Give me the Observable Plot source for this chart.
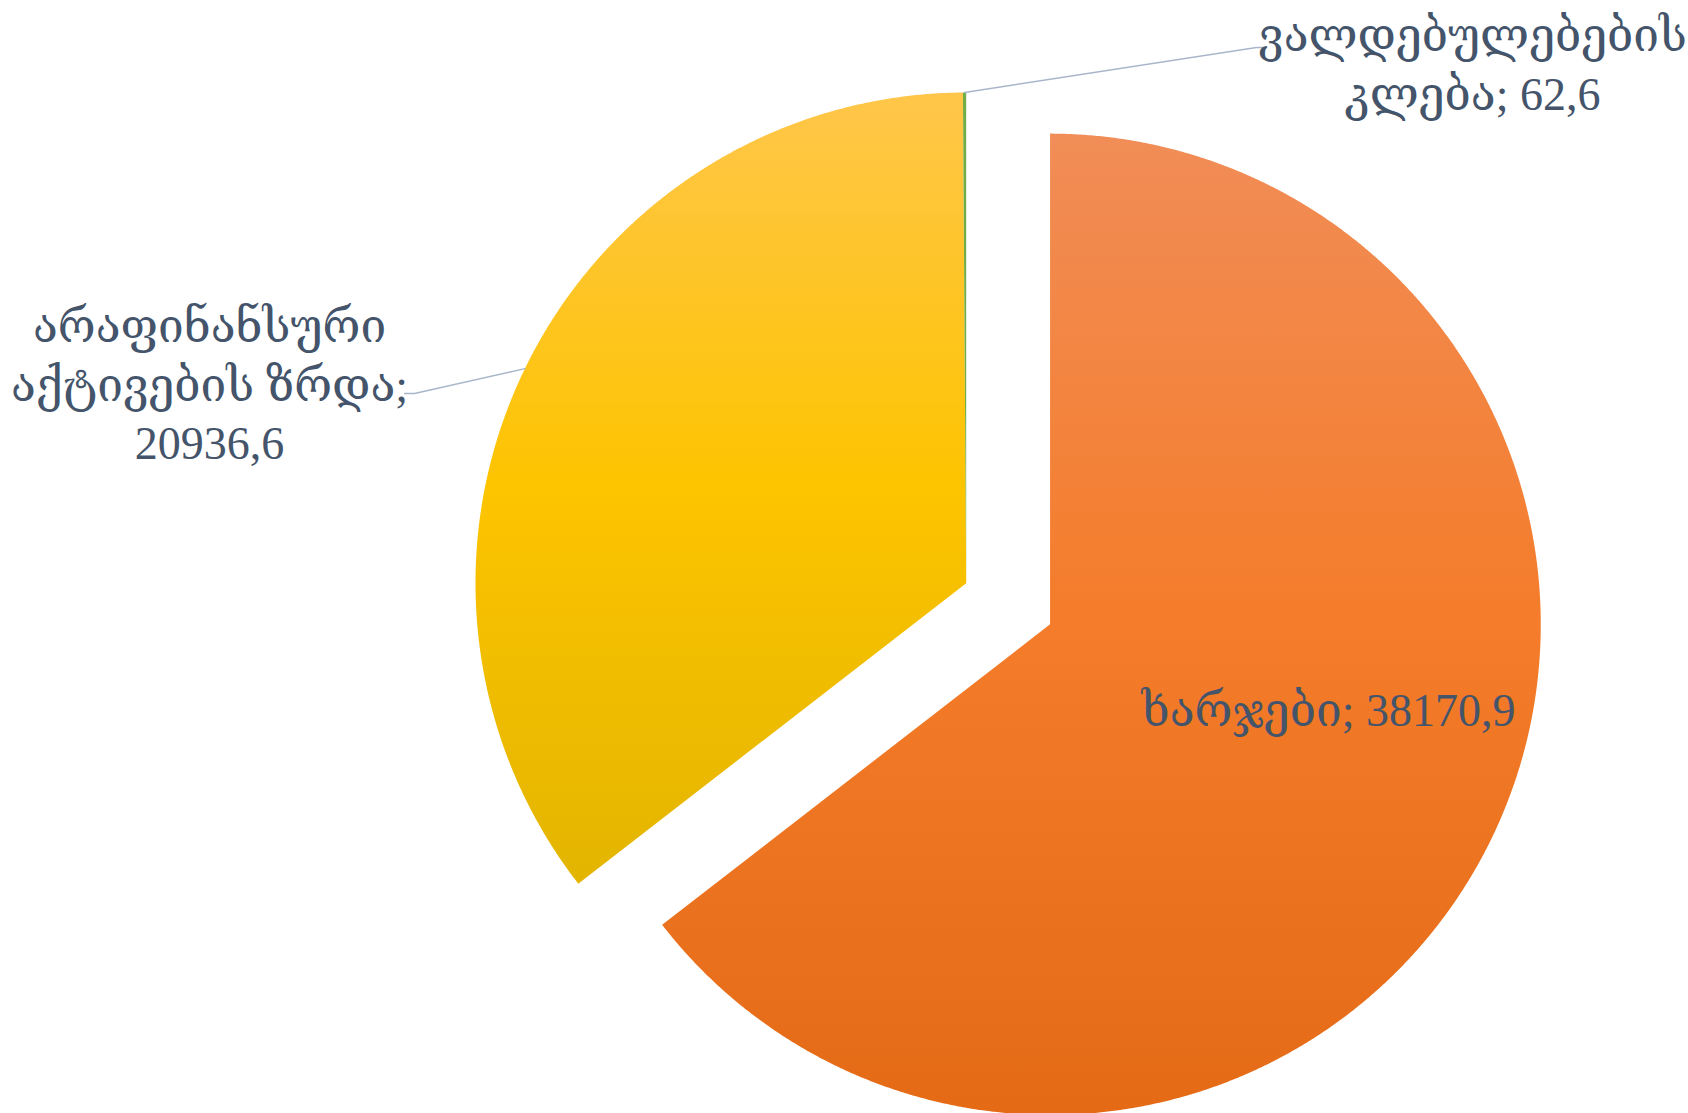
<!DOCTYPE html>
<html><head><meta charset="utf-8">
<script src="https://cdn.jsdelivr.net/npm/d3@7"></script>
<script src="https://cdn.jsdelivr.net/npm/@observablehq/plot@0.6"></script>
<style>html,body{margin:0;padding:0;background:#fff;overflow:hidden}</style>
</head><body><div id="chart"></div>
<script>
// ---- data ----
const categories = ["ხარჯები", "არაფინანსური აქტივების ზრდა", "ვალდებულებების კლება"];
const values = [38170.9, 20936.6, 62.6];
const valueLabels = ["38170,9", "20936,6", "62,6"];

// ---- styles ----
const gradients = [
  [["0%", "#F18D57"], ["50%", "#F47C2A"], ["100%", "#E46A16"]],
  [["0%", "#FFC64A"], ["50%", "#FDC400"], ["100%", "#E3B500"]],
  [["0%", "#70AD47"], ["100%", "#70AD47"]]
];
const textColor = "#44546A";
const leaderColor = "#A9B6C9";
const fontFamily = "'Liberation Serif', 'DejaVu Serif', serif";
const fontSize = 46;

// ---- layout ----
const W = 1688, H = 1113;
const L = {
  cx: 965.7, cy: 582.7, r: 490.7,
  explode: [93.4, 0, 0],
  // words per line for each label
  wrap: [[2], [1, 2, 1], [1, 2]],
  // label center x and first baseline y
  labelPos: [[1328, 717], [209, 333], [1472, 42]],
  // leader elbow and end points (null = no leader)
  leader: [null, [[414, 393], [404, 393]], [[1256, 47], [1266, 47]]],
  lineHeight: 1.27
};

const arcs = d3.pie().sort(null).startAngle(0).endAngle(2 * Math.PI)(values);

const slices = arcs.map((a, i) => {
  const mid = (a.startAngle + a.endAngle) / 2;
  const cx = L.cx + L.explode[i] * Math.sin(mid);
  const cy = L.cy - L.explode[i] * Math.cos(mid);
  const pts = [{i, x: cx, y: cy}];
  const n = Math.max(2, Math.ceil((a.endAngle - a.startAngle) / (Math.PI / 720)));
  for (let k = 0; k <= n; k++) {
    const t = a.startAngle + (a.endAngle - a.startAngle) * k / n;
    pts.push({i, x: cx + L.r * Math.sin(t), y: cy - L.r * Math.cos(t)});
  }
  return {i, pts, edge: {x: cx + L.r * Math.sin(mid), y: cy - L.r * Math.cos(mid)}};
});

const labels = arcs.map((a, i) => {
  const words = `${categories[i]}; ${valueLabels[i]}`.split(" ");
  const lines = [];
  let k = 0;
  for (const n of L.wrap[i]) { lines.push(words.slice(k, k + n).join(" ")); k += n; }
  return {i, text: lines.join("\n"), x: L.labelPos[i][0], y: L.labelPos[i][1] - 0.71 * fontSize};
});

const leaders = [];
slices.forEach((s, i) => {
  if (!L.leader[i]) return;
  leaders.push({i, x: s.edge.x, y: s.edge.y});
  for (const [x, y] of L.leader[i]) leaders.push({i, x, y});
});

const marks = slices.map(s =>
  Plot.line(s.pts, {x: "x", y: "y", curve: "linear-closed", fill: `url(#grad${s.i})`, stroke: "none"})
);
marks.push(Plot.line(leaders, {x: "x", y: "y", z: "i", stroke: leaderColor, strokeWidth: 1.5}));
marks.push(Plot.text(labels, {
  x: "x", y: "y", text: "text", textAnchor: "middle", lineAnchor: "top",
  lineHeight: L.lineHeight, fontSize, fontFamily, fill: textColor
}));

const svg = Plot.plot({
  width: W, height: H,
  margin: 0,
  x: {domain: [0, W], range: [0, W], axis: null},
  y: {domain: [0, H], range: [0, H], axis: null},
  style: {background: "#fff", fontFamily},
  marks
});

const defs = d3.select(svg).insert("defs", ":first-child");
gradients.forEach((stops, i) => {
  const g = defs.append("linearGradient").attr("id", `grad${i}`)
    .attr("x1", 0).attr("y1", 0).attr("x2", 0).attr("y2", 1);
  stops.forEach(([o, c]) => g.append("stop").attr("offset", o).attr("stop-color", c));
});

document.getElementById("chart").appendChild(svg);
</script>
</body></html>
